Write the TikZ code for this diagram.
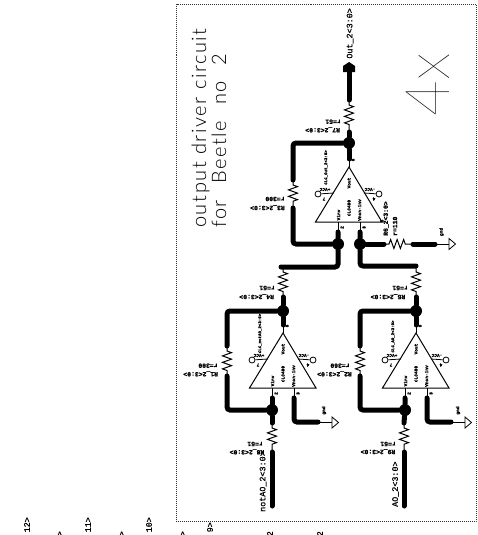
\documentclass[tikz,border=0pt]{standalone}
\usepackage{fontspec}
\setmainfont{Liberation Sans}
\newfontfamily\labfont[FakeBold=0.8]{Liberation Mono}
\newfontfamily\labbold[FakeBold=1.5]{Liberation Mono Bold}
\newfontfamily\thinfont[LetterSpace=8]{Lato Light}
\newfontfamily\hugefont{Lato Hairline}
\usetikzlibrary{decorations.pathmorphing}
\tikzset{
  bus/.style={line width=5pt,line cap=round,rounded corners=3pt},
  thinw/.style={line width=1pt},
  resistor/.style={line width=1pt,decorate,decoration={zigzag,amplitude=4.5pt,segment length=6.5pt,pre=lineto,pre length=5pt,post=lineto,post length=5pt}},
  dotj/.style={circle,fill=black,inner sep=0pt,minimum size=12pt},
  opin/.style={circle,draw=black,line width=.8pt,inner sep=0pt,minimum size=6pt},
  tiny/.style={font=\labbold\fontsize{4.5}{5}\selectfont,inner sep=0pt},
  tinier/.style={font=\labbold\fontsize{4.1}{5}\selectfont,inner sep=0pt},
  small/.style={font=\labbold\fontsize{6.4}{7}\selectfont,inner sep=0pt},
  net/.style={font=\labfont\fontsize{8.4}{9}\selectfont,inner sep=0pt,rotate=90},
  up/.style={rotate=90},
  flip/.style={rotate=180},
  gndsym/.style={draw=black,line width=.8pt,fill=white},
}
% name, x, y, CLC label, label x, label y
\newcommand{\opampunit}[6]{%
  \begin{scope}[shift={(#2,#3)}]
    \coordinate (#1a) at (0,0);
    \coordinate (#1l) at (-33.5,55);
    \coordinate (#1r) at (33,55);
    \coordinate (#1i) at (-11,55);
    \coordinate (#1n) at (11,55);
    \draw[line width=1pt] (#1a) -- (#1l) -- (#1r) -- cycle;
    \node[tiny,up] (#1vout) at (0,16) {Vout};
    \node[tiny,up] (#1clc) at (0,41) {CLC400};
    \node[tiny,up] (#1vinv) at (-10.5,48) {Vinv};
    \node[tiny,up] (#1vnon) at (10.5,43) {Vnon-inv};
    \node[tinier,up] (#1name) at (#5,#6) {#4};
    \node[opin] (#1vp) at (-31,27) {};
    \node[opin] (#1vm) at (30,27) {};
    \coordinate (#1vpt) at (-15,26);
    \coordinate (#1vmt) at (15,26);
    \draw[line width=.8pt] (#1vp) -- (#1vpt);
    \draw[line width=.8pt] (#1vm) -- (#1vmt);
    \node[tiny,flip] (#1vpl) at (-24,22.5) {+VCC};
    \node[tiny,flip] (#1vml) at (21,22.5) {-VCC};
    \node[tiny,flip] (#1p7) at (-25,32) {7};
    \node[tiny,flip] (#1p4) at (25,32) {4};
    \node[tiny,up] (#1p6) at (4,-7) {6};
    \node[tiny,up] (#1p2) at (-7,60.5) {2};
    \node[tiny,up] (#1p3) at (15,60.5) {3};
    \coordinate (#1ot) at (0,-8);
    \coordinate (#1it) at (-11,65);
    \coordinate (#1nt) at (11,65);
    \draw[thinw] (#1a) -- (#1ot);
    \draw[thinw] (#1i) -- (#1it);
    \draw[thinw] (#1n) -- (#1nt);
  \end{scope}}
% ground triangle: name, x, y
\newcommand{\gndunit}[3]{%
  \coordinate (#1) at (#2,#3);
  \draw[gndsym] (#2,#3-5.5) -- (#2+6.5,#3) -- (#2,#3+5.5) -- cycle;}
\begin{document}
\begin{tikzpicture}[x=1pt,y=-1pt]
\useasboundingbox (0,0) rectangle (477,535);
% frame
\coordinate (fa) at (176.5,4.5);
\coordinate (fb) at (476,521.5);
\draw[line width=.8pt,dash pattern=on 1pt off 1pt,black!80] (fa) rectangle (fb);
% title
\node[rotate=90,anchor=base west,inner sep=0pt,font=\thinfont\fontsize{20}{22}\selectfont] (title1) at (206,228) {output driver circuit};
\node[rotate=90,anchor=base west,inner sep=0pt,font=\thinfont\fontsize{20}{22}\selectfont] (title2) at (226,228) {for\hspace{9pt} Beetle\hspace{9pt} no\hspace{9pt} 2};
\node[rotate=90,anchor=base west,inner sep=0pt,font=\hugefont\fontsize{62}{64}\selectfont] (fourx) at (449,117) {4x};
% op amps
\opampunit{U}{349}{167}{CLC\_Out\_2<3:0>}{-23}{0.5}
\opampunit{L}{283}{333}{CLC\_notAO\_2<3:0>}{-23}{0.5}
\opampunit{M}{416}{333}{CLC\_AO\_2<3:0>}{-23}{3.5}
% junctions
\node[dotj] (jOut) at (349,143) {};
\node[dotj] (jUi) at (338,244) {};
\node[dotj] (jUn) at (360,244) {};
\node[dotj] (jLo) at (283,311) {};
\node[dotj] (jLi) at (272,410) {};
\node[dotj] (jMo) at (416,311) {};
\node[dotj] (jMi) at (405,410) {};
% coordinates of wires
\coordinate (outA) at (349,72);
\coordinate (outB) at (349,100);
\coordinate (r7b) at (349,132);
\coordinate (r3a) at (293,180);
\coordinate (r3b) at (293,208);
\coordinate (r6a) at (384,244);
\coordinate (r6b) at (413,244);
\coordinate (r4a) at (283,267);
\coordinate (r4b) at (283,297);
\coordinate (r5a) at (416,267);
\coordinate (r5b) at (416,297);
\coordinate (r1a) at (227,346);
\coordinate (r1b) at (227,376);
\coordinate (r2a) at (360,346);
\coordinate (r2b) at (360,376);
\coordinate (r8a) at (272,423);
\coordinate (r8b) at (272,452);
\coordinate (r9a) at (404,423);
\coordinate (r9b) at (404,452);
\coordinate (notIn) at (272,506);
\coordinate (aoIn) at (404,506);
\coordinate (g6t) at (435,244);
% output arrow
\fill (outA) ++(-6,0) -- ++(12,0) -- ++(0,-6) -- ++(-6,-4) -- ++(-6,4) -- cycle;
% thick wires
\draw[bus] (outA) -- (outB);
\draw[bus] (r7b) -- (jOut) -- (Uot);
\draw[bus] (jOut) -| (r3a);
\draw[bus] (r3b) |- (jUi);
\draw[bus] (Uit) -- (jUi) |- (r4a -| 281,266);
\draw[bus] (Unt) -- (jUn) |- (r5a |- 0,266);
\draw[bus] (jUn) -- (r6a);
\draw[bus] (r6b) -- (g6t);
\draw[bus] (r4b) -- (jLo) -- (Lot);
\draw[bus] (jLo) -| (r1a);
\draw[bus] (r1b) |- (jLi);
\draw[bus] (Lit) -- (jLi) -- (r8a);
\draw[bus] (r8b) -- (notIn);
\draw[bus] (Lnt) |- (318,422);
\draw[bus] (r5b) -- (jMo) -- (Mot);
\draw[bus] (jMo) -| (r2a);
\draw[bus] (r2b) |- (jMi);
\draw[bus] (Mit) -- (jMi) -- (r9a);
\draw[bus] (r9b) -- (aoIn);
\draw[bus] (Mnt) |- (451,422);
% resistors
\draw[resistor] (outB) -- (r7b);
\draw[resistor] (r3a) -- (r3b);
\draw[resistor] (r6a) -- (r6b);
\draw[resistor] (r4a) -- (r4b);
\draw[resistor] (r5a) -- (r5b);
\draw[resistor] (r1a) -- (r1b);
\draw[resistor] (r2a) -- (r2b);
\draw[resistor] (r8a) -- (r8b);
\draw[resistor] (r9a) -- (r9b);
% grounds
\gndunit{g6}{449}{244}
\gndunit{gL}{332}{422.5}
\gndunit{gM}{465}{422.5}
\draw[thinw] (g6t) -- (g6);
\draw[thinw] (318,422.5) -- (gL);
\draw[thinw] (451,422.5) -- (gM);
\node[tiny,up] (gt6) at (441.5,232) {gnd};
\node[tiny,up] (gtL) at (324,410.5) {gnd};
\node[tiny,up] (gtM) at (458,410.5) {gnd};
% net labels
\node[net,anchor=east] (outlab) at (350,8) {Out\_2<3:0>};
\node[net,anchor=west] (notlab) at (263,512) {notAO\_2<3:0>};
\node[net,anchor=west] (aolab) at (395.5,507) {AO\_2<3:0>};
% resistor labels
\node[small,flip] (l7) at (322.7,130) {R7\_2<3:0>};
\node[small,flip] (v7) at (333,121.7) {r=51};
\node[small,flip] (l3) at (267.5,207.7) {R3\_2<3:0>};
\node[small,flip] (v3) at (275,199) {r=300};
\node[small,flip] (l1) at (200.7,374) {R1\_2<3:0>};
\node[small,flip] (v1) at (208,365.7) {r=300};
\node[small,flip] (l2) at (334.5,374) {R2\_2<3:0>};
\node[small,flip] (v2) at (340,365.7) {r=360};
\node[small,flip] (l4) at (256.7,296.7) {R4\_2<3:0>};
\node[small,flip] (v4) at (267,288) {r=51};
\node[small,flip] (l5) at (388,296.7) {R5\_2<3:0>};
\node[small,flip] (v5) at (400,288) {r=51};
\node[small,flip] (l8) at (247,452) {R8\_2<3:0>};
\node[small,flip] (v8) at (255,444) {r=51};
\node[small,flip] (l9) at (378,451.7) {R9\_2<3:0>};
\node[small,flip] (v9) at (388,444) {r=51};
\node[small,up,anchor=west] (l6) at (386,236) {R6\_2<3:0>};
\node[small,up,anchor=west] (v6) at (395,236) {r=110};
\node[tiny,up] (p5) at (382,221) {5};
% clipped bits below the frame
\node[net,anchor=east] (b12) at (27,517) {12>};
\node[net,anchor=east] (b11) at (88,517) {11>};
\node[net,anchor=east] (b10) at (149,517) {10>};
\node[net,anchor=east] (b9) at (210,522) {9>};
\node[net,anchor=east] (c1) at (60,531) {>};
\node[net,anchor=east] (c2) at (122,531) {>};
\node[net,anchor=east] (c3) at (183,531) {>};
\node[net,anchor=east] (d1) at (270,531) {2};
\node[net,anchor=east] (d2) at (320,531) {2};
\end{tikzpicture}
\end{document}
